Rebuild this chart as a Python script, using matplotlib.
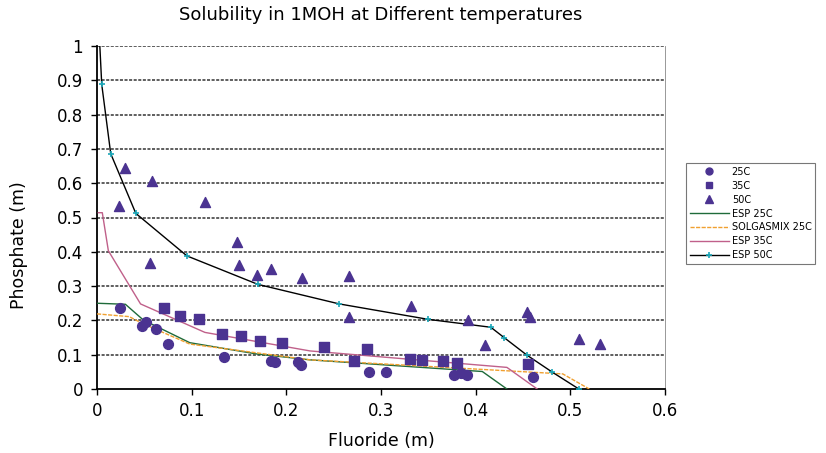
import matplotlib
matplotlib.use("Agg")
import matplotlib.pyplot as plt
from matplotlib.lines import Line2D

plt.rcParams['font.family'] = ['DejaVu Sans']

# --- measured data ---
x25 = [0.024, 0.048, 0.052, 0.062, 0.075, 0.134, 0.184, 0.188, 0.212, 0.216,
       0.287, 0.305, 0.377, 0.385, 0.391, 0.461]
y25 = [0.235, 0.184, 0.195, 0.176, 0.131, 0.094, 0.083, 0.078, 0.080, 0.071,
       0.049, 0.051, 0.041, 0.046, 0.042, 0.034]

x35 = [0.071, 0.088, 0.108, 0.132, 0.152, 0.172, 0.195, 0.240, 0.272, 0.285,
       0.331, 0.343, 0.366, 0.380, 0.455]
y35 = [0.235, 0.213, 0.204, 0.160, 0.155, 0.141, 0.135, 0.123, 0.081, 0.117,
       0.087, 0.084, 0.082, 0.075, 0.074]

x50 = [0.023, 0.030, 0.056, 0.058, 0.114, 0.148, 0.150, 0.169, 0.184, 0.217,
       0.266, 0.266, 0.332, 0.392, 0.410, 0.454, 0.457, 0.509, 0.531]
y50 = [0.533, 0.645, 0.366, 0.606, 0.544, 0.429, 0.361, 0.333, 0.350, 0.325,
       0.328, 0.211, 0.243, 0.201, 0.128, 0.224, 0.211, 0.146, 0.131]

esp25_x = [0.0, 0.030, 0.049, 0.098, 0.169, 0.225, 0.407, 0.433]
esp25_y = [0.250, 0.247, 0.201, 0.135, 0.102, 0.085, 0.051, 0.0]

sol25_x = [0.0, 0.034, 0.048, 0.098, 0.225, 0.492, 0.520]
sol25_y = [0.219, 0.211, 0.191, 0.131, 0.085, 0.044, 0.0]

esp35_x = [0.0014, 0.0056, 0.012, 0.046, 0.114, 0.225, 0.433, 0.465]
esp35_y = [0.514, 0.514, 0.403, 0.248, 0.165, 0.111, 0.063, 0.0]

esp50_x = [0.003, 0.005, 0.0145, 0.041, 0.095, 0.170, 0.256, 0.350, 0.416,
           0.430, 0.454, 0.481, 0.509]
esp50_y = [1.0, 0.888, 0.686, 0.512, 0.388, 0.305, 0.248, 0.203, 0.180,
           0.150, 0.099, 0.049, 0.0]

xticks = [0, 0.1, 0.2, 0.3, 0.4, 0.5, 0.6]
xticklabels = ['0', '0.1', '0.2', '0.3', '0.4', '0.5', '0.6']
yticks = [0, 0.1, 0.2, 0.3, 0.4, 0.5, 0.6, 0.7, 0.8, 0.9, 1]
yticklabels = ['0', '0.1', '0.2', '0.3', '0.4', '0.5', '0.6', '0.7', '0.8', '0.9', '1']

purple = '#4B3391'

fig = plt.figure(figsize=(8.26, 4.53), dpi=100)
ax = fig.add_axes([97/826, 1-389/453, (665-97)/826, (389-46)/453])

for yv in yticks[1:]:
    ax.axhline(yv, color='#333333', lw=1.1, ls=(0, (2, 1)), zorder=1)

ax.plot(esp25_x, esp25_y, color='#1F6B3A', lw=1.0, zorder=3)
ax.plot(sol25_x, sol25_y, color='#F0A030', lw=1.0, ls=(0, (3, 1)), zorder=3)
ax.plot(esp35_x, esp35_y, color='#C0608A', lw=1.0, zorder=3)
ax.plot(esp50_x, esp50_y, color='black', lw=1.0, zorder=3)
ax.plot(esp50_x[1:], esp50_y[1:], ls='none', marker='+', ms=4, mew=1.2,
        color='#1AA6B7', zorder=4)

ax.scatter(x25, y25, marker='o', s=50, color=purple, zorder=5)
ax.scatter(x35, y35, marker='s', s=46, color=purple, zorder=5)
ax.scatter(x50, y50, marker='^', s=52, color=purple, zorder=5)

ax.set_xlim(0, 0.6)
ax.set_ylim(0, 1)
ax.set_xticks(xticks)
ax.set_xticklabels(xticklabels)
ax.set_yticks(yticks)
ax.set_yticklabels(yticklabels)
ax.tick_params(axis='both', labelsize=12, direction='out', length=4, width=1)
ax.tick_params(axis='x', pad=5)
ax.tick_params(axis='y', pad=6)

ax.spines['top'].set_visible(False)
ax.spines['right'].set_color('#888888')
ax.spines['right'].set_linewidth(0.6)
ax.spines['left'].set_linewidth(1.3)
ax.spines['bottom'].set_linewidth(1.3)

ax.set_xlabel('Fluoride (m)', fontsize=12.5, labelpad=9)
ax.set_ylabel('Phosphate (m)', fontsize=12.5)
ax.yaxis.set_label_coords(-0.122, 0.42)
ax.set_title('Solubility in 1MOH at Different temperatures', fontsize=13, pad=19)

handles = [
    Line2D([], [], ls='none', marker='o', ms=5, color=purple),
    Line2D([], [], ls='none', marker='s', ms=5, color=purple),
    Line2D([], [], ls='none', marker='^', ms=5.5, color=purple),
    Line2D([], [], color='#1F6B3A', lw=1.0),
    Line2D([], [], color='#F0A030', lw=1.0, ls=(0, (3, 1))),
    Line2D([], [], color='#C0608A', lw=1.0),
    Line2D([], [], color='black', lw=1.0, marker='+', ms=4, mec='#1AA6B7', mew=1.2),
]
labels = ['25C', '35C', '50C', 'ESP 25C', 'SOLGASMIX 25C', 'ESP 35C', 'ESP 50C']
leg = fig.legend(handles, labels, loc='upper left', bbox_to_anchor=(686/826, 1-163/453),
                 fontsize=7, frameon=True, fancybox=False, edgecolor='#555555',
                 handlelength=4.0, handletextpad=0.3, labelspacing=0.4,
                 borderpad=0.4, borderaxespad=0)
leg.get_frame().set_linewidth(0.8)

fig.savefig('out.png', dpi=100)
